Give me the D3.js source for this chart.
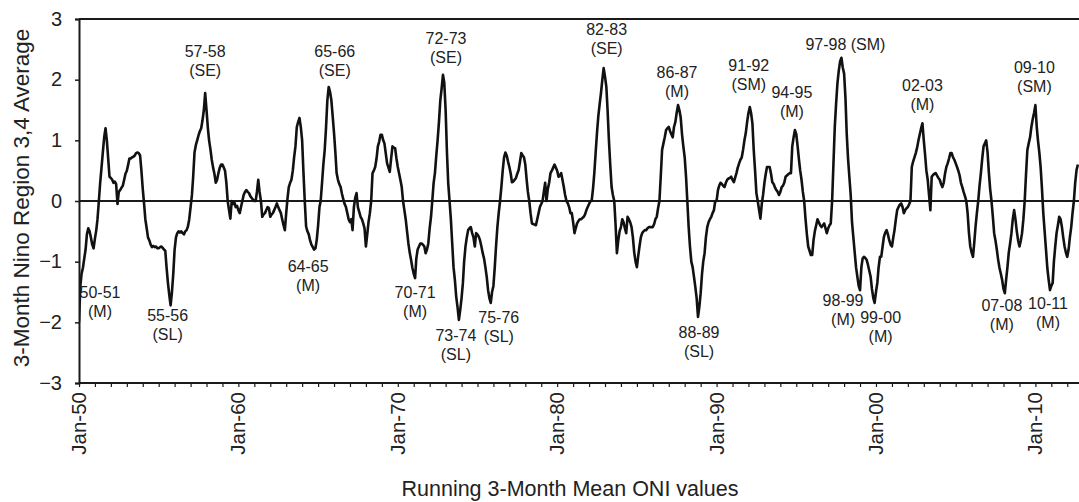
<!DOCTYPE html>
<html>
<head>
<meta charset="utf-8">
<script src="https://cdn.jsdelivr.net/npm/d3@7"></script>
<style>
  html, body { margin: 0; padding: 0; background: #fff; }
  svg { display: block; font-family: "Liberation Sans", Arial, Helvetica, sans-serif; }
</style>
</head>
<body>
<svg id="chart" width="1079" height="502"></svg>
<script>
// Running 3-month mean ONI (Nino 3.4), monthly from Jan 1950
const oni1950s = [
  -2.0,-1.4,-1.2,-1.1,-0.95,-0.8,-0.55,-0.45,-0.5,-0.6,-0.72,-0.78,
  -0.62,-0.48,-0.3,0.0,0.3,0.55,0.8,1.05,1.2,1.0,0.7,0.4,
  0.38,0.35,0.3,0.32,0.28,-0.05,0.15,0.18,0.22,0.25,0.35,0.45,
  0.5,0.6,0.7,0.7,0.72,0.73,0.75,0.79,0.8,0.79,0.75,0.5,
  0.2,-0.05,-0.3,-0.45,-0.6,-0.65,-0.72,-0.76,-0.74,-0.76,-0.75,-0.78,
  -0.78,-0.76,-0.75,-0.77,-0.8,-0.82,-1.1,-1.35,-1.55,-1.72,-1.5,-1.2,
  -0.8,-0.6,-0.53,-0.5,-0.52,-0.5,-0.53,-0.55,-0.5,-0.48,-0.42,-0.3,
  -0.1,0.1,0.4,0.8,0.92,1.0,1.08,1.15,1.2,1.33,1.5,1.78,
  1.5,1.2,1.0,0.85,0.68,0.55,0.45,0.3,0.35,0.46,0.55,0.6,
  0.6,0.55,0.5,0.3,0.0,-0.15,-0.29,0.0,-0.05,-0.02,-0.1,-0.08
];
const oni1960s = [
  -0.15,-0.2,-0.1,0.0,0.1,0.15,0.18,0.15,0.13,0.08,0.05,0.02,
  0.0,0.0,0.15,0.35,0.15,0.0,-0.26,-0.22,-0.2,-0.15,-0.1,-0.12,
  -0.26,-0.22,-0.2,-0.15,-0.1,-0.04,-0.1,-0.15,-0.2,-0.3,-0.4,-0.48,
  -0.2,0.05,0.23,0.3,0.35,0.5,0.72,0.9,1.22,1.3,1.37,1.22,
  1.0,0.46,0.0,-0.42,-0.5,-0.55,-0.65,-0.72,-0.76,-0.8,-0.78,-0.64,
  -0.4,-0.1,0.0,0.3,0.6,0.84,1.2,1.66,1.88,1.8,1.66,1.4,
  1.12,0.8,0.46,0.35,0.28,0.23,0.12,0.03,-0.05,-0.1,-0.2,-0.3,
  -0.35,-0.3,-0.48,-0.1,0.05,0.13,-0.1,-0.18,-0.26,-0.3,-0.37,-0.45,
  -0.75,-0.55,-0.35,-0.2,0.0,0.46,0.5,0.56,0.7,0.9,0.98,1.09,
  1.09,1.0,0.95,0.78,0.62,0.55,0.48,0.7,0.9,0.88,0.87,0.7
];
const oni1970s = [
  0.56,0.45,0.35,0.23,0.0,-0.15,-0.3,-0.5,-0.7,-0.85,-0.97,-1.1,
  -1.2,-1.27,-0.95,-0.8,-0.75,-0.7,-0.7,-0.72,-0.75,-0.86,-0.8,-0.7,
  -0.45,-0.26,0.0,0.3,0.46,0.75,1.0,1.3,1.66,1.85,2.08,1.95,
  1.5,0.79,0.3,0.0,-0.3,-0.7,-1.09,-1.3,-1.58,-1.75,-1.96,-1.8,
  -1.6,-1.35,-1.0,-0.75,-0.6,-0.48,-0.45,-0.43,-0.53,-0.6,-0.75,-0.53,
  -0.55,-0.59,-0.65,-0.75,-0.86,-0.95,-1.09,-1.25,-1.47,-1.6,-1.68,-1.5,
  -1.4,-1.09,-0.75,-0.43,-0.2,0.0,0.23,0.5,0.72,0.8,0.75,0.65,
  0.56,0.45,0.31,0.32,0.35,0.38,0.45,0.51,0.65,0.79,0.75,0.72,
  0.6,0.35,0.15,0.0,-0.2,-0.37,-0.38,-0.39,-0.4,-0.3,-0.2,-0.1,
  -0.05,0.0,0.15,0.3,0.0,0.2,0.3,0.46,0.5,0.55,0.6,0.55
];
const oni1980s = [
  0.5,0.4,0.42,0.46,0.35,0.23,0.1,0.0,-0.04,-0.1,-0.2,-0.2,
  -0.35,-0.53,-0.45,-0.37,-0.33,-0.3,-0.3,-0.28,-0.26,-0.22,-0.15,-0.1,
  -0.05,0.0,0.0,0.2,0.46,0.8,1.12,1.4,1.6,1.78,2.0,2.19,
  2.05,1.88,1.5,1.0,0.6,0.23,0.1,0.0,-0.4,-0.86,-0.65,-0.5,
  -0.43,-0.3,-0.35,-0.45,-0.53,-0.26,-0.3,-0.35,-0.43,-0.6,-0.85,-1.0,
  -1.09,-0.9,-0.75,-0.6,-0.53,-0.5,-0.48,-0.48,-0.45,-0.43,-0.43,-0.43,
  -0.43,-0.38,-0.3,-0.26,-0.12,0.0,0.4,0.84,0.95,1.05,1.17,1.2,
  1.22,1.15,1.1,1.05,1.22,1.3,1.45,1.58,1.5,1.38,1.1,0.9,
  0.72,0.4,0.0,-0.43,-0.75,-1.0,-1.09,-1.25,-1.42,-1.6,-1.91,-1.75,
  -1.52,-1.2,-1.0,-0.86,-0.6,-0.43,-0.35,-0.3,-0.26,-0.2,-0.15,0.0
];
const oni1990s = [
  0.0,0.18,0.25,0.3,0.28,0.25,0.23,0.3,0.35,0.37,0.38,0.4,
  0.35,0.31,0.38,0.46,0.55,0.62,0.68,0.72,0.85,1.0,1.12,1.3,
  1.45,1.55,1.45,1.28,0.84,0.5,0.13,0.0,-0.15,-0.29,-0.05,0.1,
  0.3,0.45,0.56,0.56,0.56,0.45,0.31,0.28,0.22,0.18,0.15,0.1,
  0.15,0.23,0.25,0.3,0.4,0.42,0.44,0.46,0.46,0.9,1.05,1.17,
  1.1,0.9,0.7,0.5,0.35,0.15,0.0,-0.3,-0.55,-0.75,-0.82,-0.89,
  -0.89,-0.64,-0.5,-0.4,-0.3,-0.35,-0.4,-0.43,-0.4,-0.37,-0.45,-0.53,
  -0.45,-0.4,-0.37,0.0,0.6,1.22,1.6,1.94,2.15,2.3,2.36,2.2,
  2.1,1.7,1.12,0.7,0.4,0.1,-0.35,-0.6,-0.85,-1.09,-1.25,-1.4,
  -1.47,-1.09,-0.95,-0.92,-0.94,-0.97,-1.05,-1.15,-1.25,-1.45,-1.6,-1.68
];
const oni2000s = [
  -1.5,-1.35,-1.1,-0.92,-0.92,-0.75,-0.59,-0.52,-0.48,-0.55,-0.65,-0.72,
  -0.75,-0.6,-0.48,-0.3,-0.15,-0.1,-0.06,-0.04,-0.1,-0.2,-0.15,-0.12,
  -0.1,-0.05,0.0,0.56,0.65,0.72,0.79,0.88,1.0,1.1,1.2,1.28,
  1.0,0.75,0.5,0.35,0.1,-0.15,0.4,0.43,0.45,0.46,0.42,0.38,
  0.35,0.28,0.23,0.3,0.45,0.56,0.62,0.7,0.79,0.79,0.72,0.68,
  0.62,0.56,0.5,0.42,0.3,0.23,0.15,0.08,0.0,-0.2,-0.53,-0.75,
  -0.85,-0.92,-0.7,-0.42,-0.2,0.0,0.25,0.46,0.7,0.9,0.95,1.0,
  0.8,0.46,0.2,0.0,-0.25,-0.53,-0.65,-0.8,-0.97,-1.1,-1.2,-1.3,
  -1.45,-1.52,-1.3,-1.09,-0.85,-0.7,-0.53,-0.3,-0.15,-0.3,-0.5,-0.65,
  -0.75,-0.65,-0.53,-0.3,0.0,0.45,0.84,0.95,1.05,1.22,1.35,1.45
];
const oni2010s = [
  1.58,1.22,1.0,0.8,0.56,0.2,-0.2,-0.5,-0.8,-1.1,-1.3,-1.47,
  -1.4,-1.35,-1.0,-0.75,-0.53,-0.4,-0.26,-0.3,-0.43,-0.6,-0.75,-0.85,
  -0.92,-0.8,-0.6,-0.43,-0.2,0.0,0.3,0.51,0.6
];

// ENSO episodes: label, strength class, month of the extreme
const episodeNames = ["57-58","65-66","72-73","82-83","86-87","91-92","94-95","97-98 (SM)","02-03","09-10",
                      "50-51","55-56","64-65","70-71","73-74","75-76","88-89","98-99","99-00","07-08","10-11"];
const episodeClasses = ["(SE)","(SE)","(SE)","(SE)","(M)","(SM)","(M)","","(M)","(SM)",
                        "(M)","(SL)","(M)","(M)","(SL)","(SL)","(SL)","(M)","(M)","(M)","(M)"];
const episodeMonths = ["1957-12","1965-09","1972-11","1982-12","1987-08","1992-02","1994-12","1997-11","2002-12","2010-01",
                       "1950-01","1955-10","1964-10","1971-02","1973-11","1975-11","1988-11","1999-01","1999-12","2008-02","2010-12"];

const yTicks = [-3, -2, -1, 0, 1, 2, 3];
const decadeTicks = [1950, 1960, 1970, 1980, 1990, 2000, 2010];

// label placement relative to the extreme point [dx, dy of first baseline]
const labelOffsets = [[0,-36],[6,-30],[3,-31],[3,-33],[-1,-27],[-1,-36],[-3,-32],[4,-8],[0,-32],[-1,-32],
                      [21,-24],[-3,16],[-6,22],[0,20],[-3,21],[8,20],[1,21],[-17,16],[6,20],[-3,18],[-2,19]];

const series = [].concat(oni1950s, oni1960s, oni1970s, oni1980s, oni1990s, oni2000s, oni2010s)
  .map((v, i) => ({ date: new Date(1950, i, 1), value: v }));

const svg = d3.select("#chart");
const W = 1079;
const plotLeft = 79, plotTop = 19, plotBottom = 383;
const pxPerYear = 15.94;

const x = d3.scaleTime()
  .domain([new Date(1950, 0, 1), new Date(2013, 0, 1)])
  .range([plotLeft, plotLeft + 63 * pxPerYear]);
const y = d3.scaleLinear().domain([-3, 3]).range([plotBottom, plotTop]);

const ink = "#1a1a1a";

svg.append("defs").append("clipPath").attr("id", "plotClip")
  .append("rect").attr("x", plotLeft).attr("y", plotTop - 2)
  .attr("width", W - plotLeft).attr("height", plotBottom - plotTop + 4);

// top frame line
svg.append("line").attr("x1", plotLeft).attr("x2", W).attr("y1", plotTop).attr("y2", plotTop)
  .attr("stroke", ink).attr("stroke-width", 2);

// zero line
svg.append("line").attr("x1", plotLeft).attr("x2", W).attr("y1", y(0)).attr("y2", y(0))
  .attr("stroke", ink).attr("stroke-width", 2);

// ONI line
svg.append("path")
  .datum(series)
  .attr("clip-path", "url(#plotClip)")
  .attr("fill", "none")
  .attr("stroke", "#111")
  .attr("stroke-width", 2.6)
  .attr("stroke-linejoin", "round")
  .attr("d", d3.line().x(d => x(d.date)).y(d => y(d.value)));

// y axis
const yAxis = svg.append("g").attr("transform", `translate(${plotLeft},0)`)
  .call(d3.axisLeft(y).tickValues(yTicks).tickSize(4).tickPadding(13).tickFormat(d3.format("d")));
yAxis.select(".domain").attr("stroke", ink).attr("stroke-width", 2);
yAxis.selectAll(".tick line").attr("stroke", ink).attr("stroke-width", 1.5);
yAxis.selectAll(".tick text").attr("font-size", 20).attr("fill", "#222")
  .attr("font-family", "Liberation Sans, Arial, sans-serif").attr("dy", "0.3em");

// x axis: yearly ticks, decade labels
const years = d3.range(1950, 2013).map(yy => new Date(yy, 0, 1));
const xAxis = svg.append("g").attr("transform", `translate(0,${plotBottom})`)
  .call(d3.axisBottom(x).tickValues(years).tickSize(4).tickFormat(""));
xAxis.select(".domain").attr("stroke", ink).attr("stroke-width", 2).attr("d", `M${plotLeft},0H${W}`);
xAxis.selectAll(".tick line").attr("stroke", ink).attr("stroke-width", 1.2);

const fmt = d3.timeFormat("%b-%y");
svg.append("g").selectAll("text")
  .data(decadeTicks)
  .join("text")
  .attr("transform", d => `translate(${x(new Date(d, 0, 1)) + 7},${plotBottom + 9}) rotate(-90)`)
  .attr("text-anchor", "end")
  .attr("font-size", 20.5)
  .attr("fill", "#222")
  .text(d => fmt(new Date(d, 0, 1)));

// axis titles
svg.append("text")
  .attr("transform", `translate(29,198) rotate(-90)`)
  .attr("text-anchor", "middle")
  .attr("font-size", 22.5)
  .attr("fill", "#222")
  .text("3-Month Nino Region 3,4 Average");

svg.append("text")
  .attr("x", 570).attr("y", 496)
  .attr("text-anchor", "middle")
  .attr("font-size", 21.5)
  .attr("fill", "#222")
  .text("Running 3-Month Mean ONI values");

// episode labels
const monthKey = d3.timeFormat("%Y-%m");
const byMonth = new Map(series.map(d => [monthKey(d.date), d]));
const labels = svg.append("g").attr("font-size", 16).attr("fill", "#222").attr("text-anchor", "middle");
episodeNames.forEach((name, i) => {
  const pt = byMonth.get(episodeMonths[i]);
  const [dx, dy] = labelOffsets[i];
  const cx = x(pt.date) + dx;
  const by = y(pt.value) + dy;
  const t = labels.append("text").attr("x", cx).attr("y", by);
  t.append("tspan").attr("x", cx).text(name);
  if (episodeClasses[i]) t.append("tspan").attr("x", cx).attr("dy", 19).text(episodeClasses[i]);
});
</script>
</body>
</html>
